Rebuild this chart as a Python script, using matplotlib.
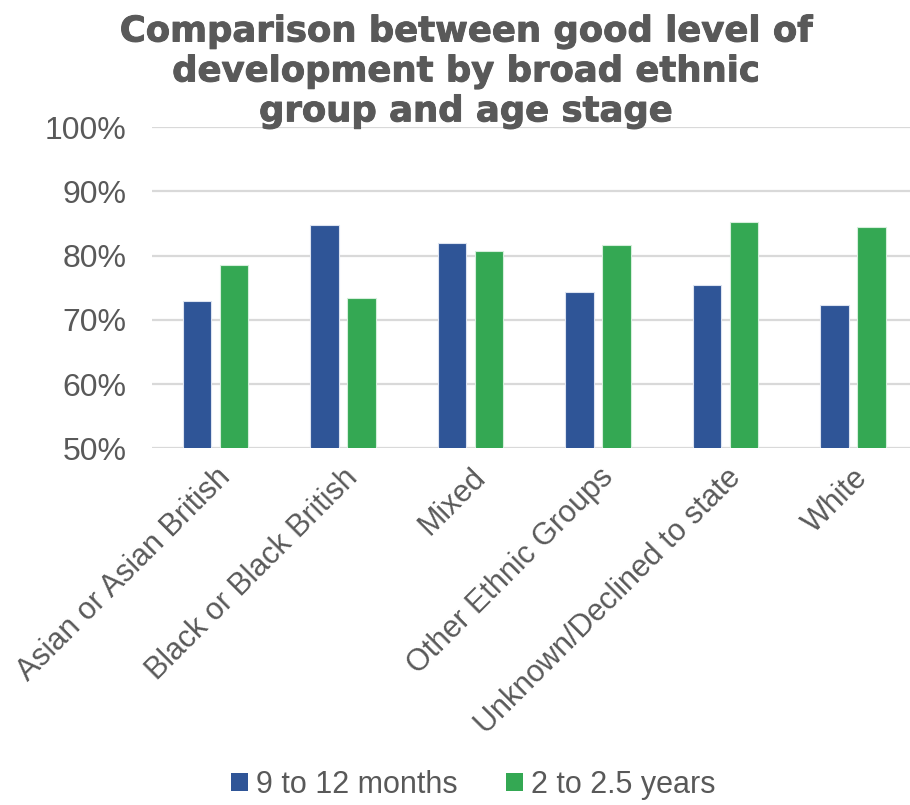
import numpy as np
import matplotlib
matplotlib.use("Agg")
from matplotlib import pyplot as plt
from matplotlib.patches import Patch
import matplotlib.patheffects as pe

# good level of development (%) by broad ethnic group
groups = ['Asian or Asian British', 'Black or Black British', 'Mixed',
          'Other Ethnic Groups', 'Unknown/Declined to state', 'White']
months_9_12 = [72.9, 84.7, 81.9, 74.3, 75.5, 72.3]
years_2_25 = [78.6, 73.4, 80.7, 81.7, 85.2, 84.5]
series_names = ['9 to 12 months', '2 to 2.5 years']
y_ticks = [50, 60, 70, 80, 90, 100]

blue = '#2F5597'
green = '#34A853'
grey_txt = '#595959'

plt.rcParams['font.family'] = ['Liberation Sans', 'DejaVu Sans']

fig = plt.figure(figsize=(9.1, 8.05), dpi=100)
ax = fig.add_axes([0.1668, 0.443, 0.8332, 0.399])

x = np.arange(len(groups))
w = 0.223
off = 0.144
ax.bar(x - off, months_9_12, width=w, color=blue, edgecolor='#DCE3F0', linewidth=0.8, zorder=3)
ax.bar(x + off, years_2_25, width=w, color=green, edgecolor='#D5EEDB', linewidth=0.8, zorder=3)

ax.set_ylim(50, 100)
ax.set_xlim(-0.5, 5.447)
ax.set_yticks(y_ticks)
ax.set_yticklabels([f'{t}%' for t in y_ticks])
ax.yaxis.grid(True, color='#D9D9D9', linewidth=1.6, zorder=0)
ax.set_axisbelow(True)
for s in ax.spines.values():
    s.set_visible(False)

ax.set_xticks(x)
ax.set_xticklabels(groups, rotation=45, ha='right', va='top', rotation_mode='anchor')
ax.tick_params(axis='both', length=0, labelsize=22, colors=grey_txt)
ax.tick_params(axis='y', pad=18, labelsize=23)
ax.tick_params(axis='x', pad=10)

fig.text(0.512, 0.982, 'Comparison between good level of\ndevelopment by broad ethnic\ngroup and age stage',
         ha='center', va='top', fontsize=25.5, fontweight='bold', color=grey_txt,
         family='DejaVu Sans', linespacing=1.22,
         path_effects=[pe.withStroke(linewidth=0.7, foreground=grey_txt)])

handles = [Patch(facecolor=blue, edgecolor='none'), Patch(facecolor=green, edgecolor='none')]
leg = fig.legend(handles, series_names, loc='lower center', bbox_to_anchor=(0.52, -0.028),
                 ncol=2, frameon=False, fontsize=22, handlelength=0.55, handleheight=0.55,
                 handletextpad=0.25, columnspacing=1.6)
for t in leg.get_texts():
    t.set_color(grey_txt)

plt.savefig('out.png', dpi=100)
